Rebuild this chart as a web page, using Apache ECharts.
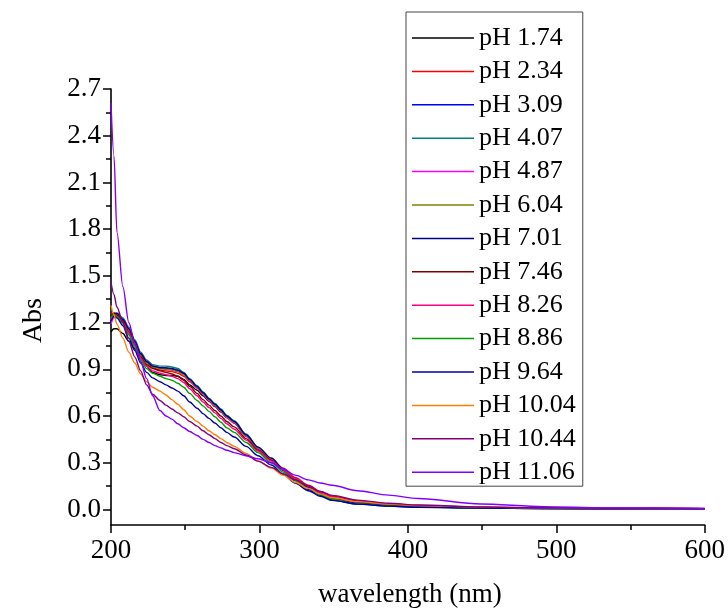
<!DOCTYPE html>
<html>
<head>
<meta charset="utf-8">
<script src="https://cdn.jsdelivr.net/npm/echarts@6/dist/echarts.min.js"></script>
<style>html,body{margin:0;padding:0;background:#fff}#c{width:728px;height:610px}</style>
</head>
<body>
<div id="c"></div>
<script>
const wavelength = [200,202,204,208,212,216,220,224,228,233,237,241,245,249,253,258,262,266,270,274,278,283,291,299,308,316,324,333,341,349,366,387,407,449,491,532,600];

const pH174  = [1.14,1.16,1.16,1.13,1.08,1.03,0.97,0.92,0.88,0.865,0.86,0.86,0.855,0.835,0.80,0.765,0.73,0.695,0.66,0.625,0.59,0.555,0.47,0.39,0.32,0.255,0.19,0.135,0.095,0.065,0.038,0.026,0.018,0.010,0.007,0.005,0.004];
const pH234  = [1.25,1.26,1.25,1.21,1.15,1.07,0.99,0.94,0.91,0.895,0.89,0.885,0.875,0.855,0.82,0.78,0.74,0.70,0.665,0.63,0.59,0.555,0.47,0.395,0.325,0.265,0.205,0.155,0.115,0.085,0.055,0.036,0.025,0.014,0.009,0.006,0.005];
const pH309  = [1.20,1.24,1.25,1.22,1.16,1.08,1.00,0.95,0.92,0.91,0.905,0.90,0.89,0.87,0.83,0.785,0.745,0.705,0.67,0.635,0.595,0.56,0.475,0.395,0.32,0.25,0.185,0.13,0.09,0.06,0.035,0.022,0.015,0.009,0.006,0.005,0.004];
const pH407  = [1.22,1.25,1.26,1.23,1.17,1.09,1.01,0.96,0.93,0.92,0.92,0.915,0.905,0.88,0.84,0.795,0.755,0.715,0.68,0.645,0.605,0.57,0.485,0.40,0.325,0.255,0.19,0.135,0.095,0.065,0.038,0.024,0.016,0.009,0.006,0.005,0.004];
const pH487  = [1.19,1.23,1.25,1.22,1.16,1.08,1.00,0.95,0.92,0.905,0.90,0.895,0.885,0.865,0.825,0.78,0.74,0.70,0.665,0.63,0.59,0.555,0.47,0.39,0.32,0.255,0.195,0.145,0.105,0.075,0.047,0.03,0.019,0.010,0.007,0.006,0.005];
const pH604  = [1.23,1.25,1.25,1.21,1.15,1.07,0.99,0.94,0.915,0.905,0.90,0.895,0.885,0.865,0.83,0.785,0.745,0.705,0.67,0.635,0.595,0.56,0.475,0.395,0.325,0.26,0.20,0.15,0.11,0.08,0.05,0.032,0.021,0.011,0.007,0.006,0.005];
const pH701  = [1.24,1.26,1.26,1.22,1.16,1.08,1.00,0.95,0.92,0.91,0.91,0.905,0.895,0.875,0.835,0.79,0.75,0.71,0.675,0.64,0.60,0.565,0.48,0.40,0.33,0.26,0.195,0.14,0.10,0.07,0.04,0.025,0.017,0.010,0.007,0.005,0.004];
const pH746  = [1.24,1.26,1.25,1.21,1.14,1.06,0.98,0.93,0.905,0.89,0.88,0.87,0.855,0.83,0.79,0.745,0.705,0.67,0.635,0.60,0.565,0.53,0.455,0.38,0.315,0.255,0.20,0.15,0.11,0.08,0.052,0.035,0.024,0.013,0.008,0.006,0.005];
const pH826  = [1.22,1.25,1.24,1.20,1.13,1.05,0.97,0.92,0.89,0.875,0.865,0.855,0.84,0.815,0.775,0.73,0.69,0.655,0.62,0.585,0.55,0.515,0.445,0.375,0.31,0.255,0.20,0.15,0.11,0.08,0.052,0.035,0.024,0.013,0.008,0.006,0.005];
const pH886  = [1.23,1.25,1.24,1.19,1.12,1.04,0.96,0.905,0.875,0.855,0.84,0.83,0.81,0.785,0.745,0.70,0.665,0.63,0.595,0.56,0.525,0.495,0.43,0.365,0.30,0.24,0.185,0.135,0.095,0.065,0.036,0.022,0.015,0.009,0.006,0.005,0.004];
const pH964  = [1.21,1.24,1.23,1.18,1.10,1.02,0.94,0.88,0.845,0.82,0.80,0.78,0.76,0.73,0.69,0.65,0.615,0.585,0.555,0.525,0.495,0.465,0.405,0.345,0.285,0.225,0.17,0.12,0.085,0.058,0.034,0.021,0.014,0.009,0.006,0.005,0.004];
const pH1004 = [1.31,1.25,1.19,1.10,1.01,0.94,0.87,0.82,0.785,0.76,0.735,0.705,0.675,0.64,0.60,0.565,0.535,0.505,0.48,0.455,0.43,0.405,0.36,0.31,0.265,0.22,0.175,0.135,0.10,0.075,0.05,0.035,0.025,0.015,0.01,0.007,0.005];
const pH1044 = [1.46,1.38,1.30,1.20,1.08,0.98,0.89,0.80,0.74,0.70,0.67,0.645,0.62,0.595,0.565,0.535,0.505,0.48,0.455,0.43,0.41,0.39,0.35,0.31,0.27,0.23,0.19,0.15,0.115,0.09,0.06,0.04,0.028,0.016,0.011,0.008,0.006];
const pH1106 = [2.61,2.27,1.78,1.43,1.20,1.07,0.95,0.84,0.73,0.635,0.60,0.58,0.55,0.525,0.50,0.475,0.45,0.43,0.41,0.395,0.38,0.365,0.345,0.325,0.30,0.26,0.22,0.19,0.17,0.155,0.12,0.092,0.07,0.035,0.018,0.01,0.006];

const seriesNames = ['pH 1.74','pH 2.34','pH 3.09','pH 4.07','pH 4.87','pH 6.04','pH 7.01','pH 7.46','pH 8.26','pH 8.86','pH 9.64','pH 10.04','pH 10.44','pH 11.06'];
const seriesValues = [pH174,pH234,pH309,pH407,pH487,pH604,pH701,pH746,pH826,pH886,pH964,pH1004,pH1044,pH1106];
const seriesColors = ['#000000','#FF0000','#0000FF','#008080','#FF00FF','#808000','#000080','#800000','#FF0080','#00A000','#0000A0','#FF8000','#800080','#8000FF'];

const yLabelValues = [0,0.3,0.6,0.9,1.2,1.5,1.8,2.1,2.4,2.7];
const yMinorValues = [0.15,0.45,0.75,1.05,1.35,1.65,1.95,2.25,2.55];

const FONT = "'Liberation Serif','Times New Roman',serif";
const chart = echarts.init(document.getElementById('c'), null, {renderer:'canvas'});

const series = seriesNames.map((n,i)=>({
  name:n, type:'line', symbol:'none', smooth:0.3, smoothMonotone:'x',
  xAxisIndex:0, yAxisIndex:0,
  lineStyle:{color:seriesColors[i], width:1.4},
  itemStyle:{color:seriesColors[i]},
  data: wavelength.map((w,k)=>[w, seriesValues[i][k]])
}));

chart.setOption({
  animation:false,
  backgroundColor:'#fff',
  grid:{left:111, right:23, top:89, bottom:85, containLabel:false},
  xAxis:[{
    type:'value', min:200, max:600, interval:100,
    axisLine:{show:true, onZero:false, lineStyle:{color:'#000', width:1.6}},
    axisTick:{show:true, inside:false, length:8, lineStyle:{color:'#000', width:1.5}},
    minorTick:{show:true, splitNumber:2, length:5, lineStyle:{color:'#000', width:1.5}},
    splitLine:{show:false},
    axisLabel:{color:'#000', fontFamily:FONT, fontSize:27, margin:12}
  }],
  yAxis:[{
    type:'value', min:-0.1, max:2.7, position:'left',
    axisLine:{show:true, onZero:false, lineStyle:{color:'#000', width:1.6}},
    axisTick:{show:true, inside:false, length:8, customValues:yLabelValues, lineStyle:{color:'#000', width:1.5}},
    splitLine:{show:false},
    axisLabel:{color:'#000', fontFamily:FONT, fontSize:27, margin:10, customValues:yLabelValues,
      formatter:v=>v.toFixed(1)}
  },{
    type:'value', min:-0.1, max:2.7, position:'left', offset:0,
    axisLine:{show:false},
    axisTick:{show:true, inside:false, length:5, customValues:yMinorValues, lineStyle:{color:'#000', width:1.5}},
    splitLine:{show:false},
    axisLabel:{show:false, customValues:yMinorValues}
  }],
  legend:{
    orient:'vertical', left:406, top:12,
    data:seriesNames,
    icon:'rect',
    backgroundColor:'#fff',
    borderColor:'#444', borderWidth:1,
    padding:[13,7,1,6],
    itemWidth:62, itemHeight:1.5, itemGap:7.4,
    textStyle:{color:'#000', fontFamily:FONT, fontSize:26, lineHeight:26}
  },
  graphic:[
    {type:'text', left:20, top:298, rotation:Math.PI/2,
     style:{text:'Abs', fill:'#000', font:"28px 'Liberation Serif','Times New Roman',serif"}},
    {type:'text', left:318, top:581,
     style:{text:'wavelength (nm)', fill:'#000', font:"27px 'Liberation Serif','Times New Roman',serif"}}
  ],
  series:series
});
</script>
</body>
</html>
